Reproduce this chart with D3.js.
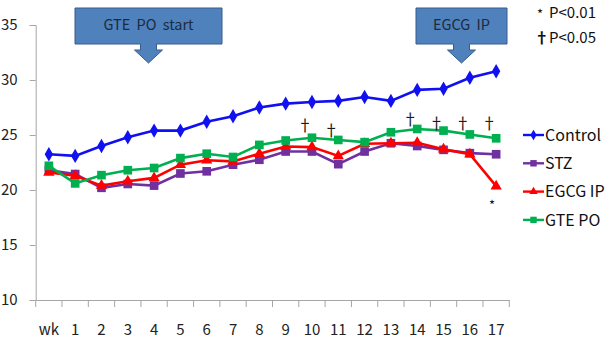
<!DOCTYPE html>
<html>
<head lang="en">
    <meta charset="UTF-8">
    <title></title>
    <script src="https://cdn.jsdelivr.net/npm/d3@7"></script>
    <style>
        body{margin:0;background:#fff;}
        text{font-family:"Noto Sans CJK KR","DejaVu Sans",sans-serif;}
    </style>
</head>
<body>
<script>
    var weeks=["wk","1","2","3","4","5","6","7","8","9","10","11","12","13","14","15","16","17"];
    var control=[23.25,23.1,24.0,24.8,25.4,25.4,26.2,26.7,27.5,27.85,28.0,28.1,28.45,28.1,29.1,29.2,30.2,30.8];
    var stz=[21.8,21.45,20.2,20.55,20.4,21.5,21.7,22.3,22.75,23.5,23.5,22.35,23.5,24.25,24.0,23.65,23.35,23.25];
    var egcg=[21.6,21.3,20.4,20.8,21.1,22.3,22.7,22.6,23.3,23.95,23.9,23.1,24.2,24.25,24.3,23.7,23.25,20.35];
    var gte=[22.2,20.6,21.35,21.8,22.0,22.9,23.3,23.0,24.1,24.5,24.75,24.55,24.35,25.25,25.55,25.4,25.05,24.7];
    var seriesNames=["Control","STZ","EGCG IP","GTE PO"];
    var yTicks=[10,15,20,25,30,35];
    var daggerWeeks=["10","11","14","15","16","17"];
    var daggerVals=[25.9,25.45,26.45,26.1,26.1,26.1];

    var series=[
        {name:seriesNames[0],values:control,color:"#1010f0",shape:d3.symbolDiamond,size:60},
        {name:seriesNames[1],values:stz,color:"#7030a0",shape:d3.symbolSquare,size:75},
        {name:seriesNames[2],values:egcg,color:"#ff0000",shape:d3.symbolTriangle,size:55},
        {name:seriesNames[3],values:gte,color:"#00b050",shape:d3.symbolSquare,size:75}
    ];

    var _svg=d3.select("body").append("svg")
            .attr("width",611).attr("height",343);

    var x=d3.scaleBand().domain(weeks).range([35.7,509.3]);
    var y=d3.scaleLinear().domain([10,35]).range([300,25]);

    //y axis
    var yAxis=_svg.append("g").attr("transform","translate(35.7,0)")
            .call(d3.axisLeft(y).tickValues(yTicks).tickSize(6).tickPadding(12));
    yAxis.selectAll("text").style("font-size","15px").style("fill","#222");
    //x axis: ticks at category boundaries
    var xAxis=_svg.append("g").attr("transform","translate(0,300)")
            .call(d3.axisBottom(x).tickSize(0).tickPadding(24));
    xAxis.selectAll("text").style("font-size","15px").style("fill","#222");
    xAxis.selectAll(".bound").data(weeks.concat(["end"])).enter().append("line")
            .attr("x1",function(d,i){return x.range()[0]+i*x.step();})
            .attr("x2",function(d,i){return x.range()[0]+i*x.step();})
            .attr("y1",0).attr("y2",7);
    _svg.selectAll(".domain,.tick line,g line").attr("stroke","#a6a6a6");

    var line=d3.line()
            .x(function(d,i){return x(weeks[i])+x.bandwidth()/2;})
            .y(function(d){return y(d);});

    series.forEach(function(s){
        _svg.append("path").datum(s.values)
                .attr("d",line).attr("fill","none")
                .attr("stroke",s.color).attr("stroke-width",2.6);
        _svg.selectAll(null).data(s.values).enter().append("path")
                .attr("d",d3.symbol().type(s.shape).size(s.size))
                .attr("transform",function(d,i){
                    return "translate("+(x(weeks[i])+x.bandwidth()/2)+","+y(d)+")";
                })
                .attr("fill",s.color);
    });

    //significance marks
    _svg.selectAll(".dag").data(daggerWeeks).enter().append("text")
            .attr("x",function(d){return x(d)+x.bandwidth()/2-7;})
            .attr("y",function(d,i){return y(daggerVals[i]);})
            .attr("dy","0.35em").attr("text-anchor","middle")
            .style("font-size","16px").style("fill","#1a1a1a")
            .text("†");
    _svg.append("text")
            .attr("x",x("17")+x.bandwidth()/2-4).attr("y",y(18.6))
            .attr("dy","0.35em").attr("text-anchor","middle")
            .style("font-size","13px").style("fill","#111")
            .text("*");

    //legend
    var leg=_svg.selectAll(".leg").data(series).enter().append("g")
            .attr("transform",function(d,i){return "translate(523,"+(135+i*28.3)+")";});
    leg.append("line").attr("x1",0).attr("x2",21).attr("y1",0).attr("y2",0)
            .attr("stroke",function(d){return d.color;}).attr("stroke-width",2.4);
    leg.append("path").attr("transform","translate(10.5,0)")
            .attr("d",function(d){return d3.symbol().type(d.shape).size(d.size*0.55)();})
            .attr("fill",function(d){return d.color;});
    leg.append("text").attr("x",22).attr("dy","0.36em")
            .style("font-size","16px").style("fill","#111")
            .text(function(d){return d.name;});

    //callout arrows
    function callout(x0,x1,label){
        var cx=(x0+x1)/2,g=_svg.append("g");
        var pts=[[x0,8],[x1,8],[x1,44],[cx+8,44],[cx+8,50],[cx+14,50],[cx,63],[cx-14,50],[cx-8,50],[cx-8,44],[x0,44]];
        g.append("path").attr("d",d3.line()(pts)+"Z")
                .attr("fill","#4f81bd").attr("stroke","#385d8a").attr("stroke-width",1);
        g.append("text").attr("x",cx).attr("y",25).attr("dy","0.35em")
                .attr("text-anchor","middle").style("font-size","14.5px")
                .style("word-spacing","3px").style("fill","#1c2b40")
                .text(label);
    }
    callout(75,222,"GTE PO start");
    callout(416,507,"EGCG IP");

    _svg.append("text").attr("x",540).attr("y",14).attr("dy","0.35em")
            .attr("text-anchor","middle").style("font-size","13px").style("fill","#111").text("*");
    _svg.append("text").attr("x",549).attr("y",13).attr("dy","0.35em")
            .style("font-size","15px").style("fill","#111").text("P<0.01");
    _svg.append("text").attr("x",541.7).attr("y",38).attr("dy","0.35em")
            .attr("text-anchor","middle").style("font-size","15px").style("font-weight","bold")
            .style("fill","#111").text("†");
    _svg.append("text").attr("x",549).attr("y",38).attr("dy","0.35em")
            .style("font-size","15px").style("fill","#111").text("P<0.05");
</script>
</body>
</html>
